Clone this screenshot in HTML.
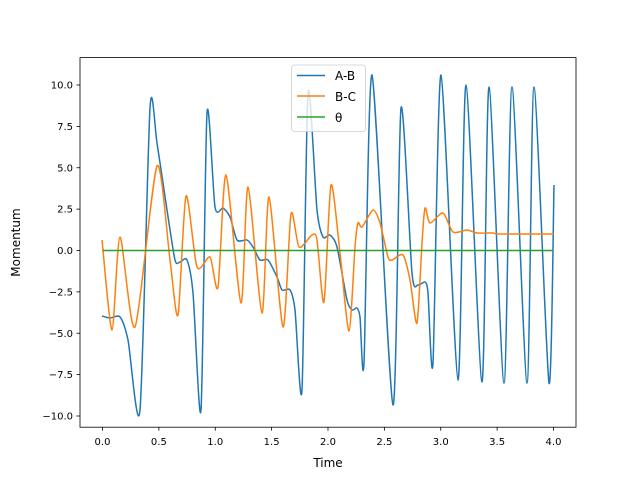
<!DOCTYPE html>
<html><head><meta charset="utf-8"><style>
body{margin:0;background:#fff}
svg{display:block;font-family:"DejaVu Sans","Liberation Sans",sans-serif}
</style></head><body>
<svg id="s" width="640" height="480" viewBox="0 0 640 480" xmlns="http://www.w3.org/2000/svg">
<rect width="640" height="480" fill="#fff"/>
<g id="ticks"></g>
<path id="ab" fill="none" stroke="#1f77b4" stroke-width="1.5"/>
<path id="bc" fill="none" stroke="#ff7f0e" stroke-width="1.5"/>
<line x1="102.5" y1="250.5" x2="553.5" y2="250.5" stroke="#2ca02c" stroke-width="1.5"/>
<rect x="80" y="57.6" width="496" height="369.6" fill="none" stroke="#000" stroke-width="0.8"/>
<text x="328" y="467" font-size="12" text-anchor="middle">Time</text>
<text transform="translate(20,242.5) rotate(-90)" font-size="12" text-anchor="middle">Momentum</text>
<g>
<rect x="291.5" y="65" width="74" height="66.5" rx="3" fill="#fff" fill-opacity="0.8" stroke="#ccc" stroke-width="0.8"/>
<line x1="297" y1="75.5" x2="325" y2="75.5" stroke="#1f77b4" stroke-width="1.5"/>
<line x1="297" y1="96" x2="325" y2="96" stroke="#ff7f0e" stroke-width="1.5"/>
<line x1="297" y1="117" x2="325" y2="117" stroke="#2ca02c" stroke-width="1.5"/>
<text x="335" y="80" font-size="12">A-B</text>
<text x="335" y="101" font-size="12">B-C</text>
<text x="335" y="122" font-size="12">θ</text>
</g>
</svg>
<script>
function cr(p){const k=8;let d="M"+p[0][0]+","+p[0][1];for(let i=0;i<p.length-1;i++){const a=p[Math.max(i-1,0)],b=p[i],c=p[i+1],e=p[Math.min(i+2,p.length-1)];
d+=" C"+(b[0]+(c[0]-a[0])/k).toFixed(1)+","+(b[1]+(c[1]-a[1])/k).toFixed(1)+" "+(c[0]-(e[0]-b[0])/k).toFixed(1)+","+(c[1]-(e[1]-b[1])/k).toFixed(1)+" "+c[0]+","+c[1];}return d;}
const ab=[[102,316],[110,318],[120,317],[128,340],[140,410],[150,108],[157,143],[167,210],[175,260],[180,262],[187,260],[193,293],[201,410],[207,113],[215,207],[223,208],[230,217],[237,240],[247,240],[253,247],[260,260],[268,260],[277,277],[282,290],[290,290],[295,310],[302,390],[308,93],[317,210],[323,237],[330,235],[337,247],[347,300],[352,310],[357,308],[360,317],[364,363],[372,75],[393,405],[401,108],[412,273],[418,285],[425,282],[428,293],[433,363],[441,75],[458,380],[466,85],[482,382],[489,87],[504,383],[512,87],[527,383],[534,87],[549,383],[554,185]];
const bc=[[102,240],[112,330],[120,237],[135,327],[157,166],[170,260],[178,315],[186,196],[197,267],[210,257],[218,287],[226,175],[241,303],[248,187],[262,313],[269,197],[283,327],[291,214],[299,247],[312,235],[317,240],[324,302],[331,185],[340,253],[349,331],[355,247],[358,223],[362,227],[373,210],[380,223],[388,257],[392,260],[403,255],[410,280],[417,323],[422,243],[425,208],[430,223],[443,213],[453,232],[467,230],[477,233],[493,233],[500,234],[554,234]];
document.getElementById("ab").setAttribute("d",cr(ab));
document.getElementById("bc").setAttribute("d",cr(bc));
let t="";
for(let i=0;i<=8;i++){const x=102.5+56.375*i;t+=`<line x1="${x}" y1="427.2" x2="${x}" y2="430.7" stroke="#000" stroke-width="0.8"/><text x="${x}" y="445" font-size="10" text-anchor="middle">${(i*0.5).toFixed(1)}</text>`;}
for(let i=-4;i<=4;i++){const v=i*2.5,y=250.5-16.55*v;t+=`<line x1="76.5" y1="${y}" x2="80" y2="${y}" stroke="#000" stroke-width="0.8"/><text x="73" y="${y+3.5}" font-size="10" text-anchor="end">${v.toFixed(1).replace("-","\u2212")}</text>`;}
document.getElementById("ticks").innerHTML=t;
</script>
</body></html>
